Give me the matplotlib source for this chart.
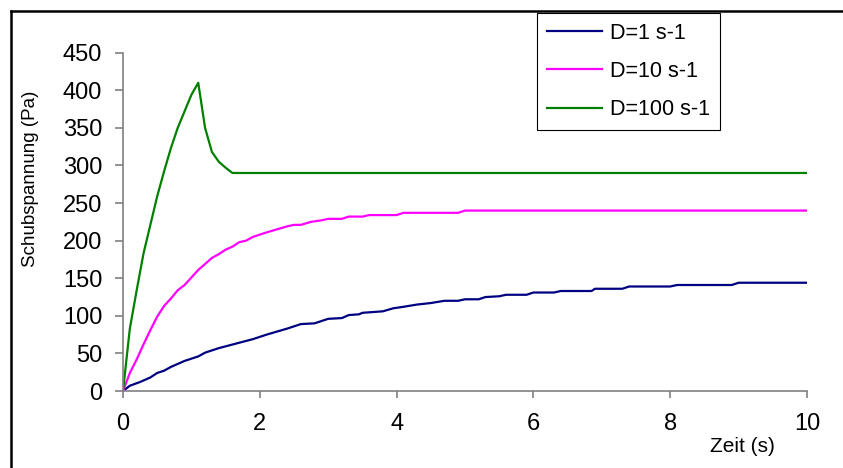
import matplotlib
matplotlib.use("Agg")
import matplotlib.pyplot as plt
from matplotlib.lines import Line2D

plt.rcParams['font.family'] = ['Liberation Sans', 'DejaVu Sans']

# --- data ---
t_d1 = [0, 0.1, 0.25, 0.4, 0.5, 0.6, 0.7, 0.9, 1.1, 1.2, 1.4, 1.65, 1.9, 2.1, 2.4,
        2.6, 2.8, 3.0, 3.2, 3.3, 3.45, 3.5, 3.8, 3.95, 4.1, 4.3, 4.5, 4.7, 4.9, 5.0,
        5.2, 5.3, 5.5, 5.6, 5.9, 6.0, 6.3, 6.4, 6.85, 6.9, 7.3, 7.4, 8.0, 8.1, 8.9,
        9.0, 10]
v_d1 = [0, 7, 12, 18, 24, 27, 32, 40, 46, 51, 57, 63, 69, 75, 83,
        89, 90, 96, 97, 101, 102, 104, 106, 110, 112, 115, 117, 120, 120, 122,
        122, 125, 126, 128, 128, 131, 131, 133, 133, 136, 136, 139, 139, 141, 141,
        144, 144]

t_d10 = [0, 0.1, 0.2, 0.3, 0.4, 0.5, 0.6, 0.7, 0.8, 0.9, 1.0, 1.1, 1.2, 1.3, 1.4,
         1.5, 1.6, 1.7, 1.8, 1.9, 2.0, 2.1, 2.25, 2.4, 2.5, 2.6, 2.75, 2.9, 3.0,
         3.2, 3.3, 3.5, 3.6, 4.0, 4.1, 4.9, 5.0, 10]
v_d10 = [0, 24, 42, 62, 81, 99, 113, 123, 134, 141, 151, 161, 169, 177, 182,
         188, 192, 198, 200, 205, 208, 211, 215, 219, 221, 221, 225, 227, 229,
         229, 232, 232, 234, 234, 237, 237, 240, 240]

t_d100 = [0, 0.1, 0.2, 0.3, 0.4, 0.5, 0.6, 0.7, 0.8, 0.9, 1.0, 1.1, 1.2, 1.3, 1.4,
          1.5, 1.6, 10]
v_d100 = [0, 83, 134, 183, 221, 259, 292, 323, 350, 372, 394, 410, 350, 318, 305,
          297, 290, 290]

labels = ["D=1 s-1", "D=10 s-1", "D=100 s-1"]
colors = ["#000080", "#FF00FF", "#008000"]

x_ticks = [0, 2, 4, 6, 8, 10]
y_ticks = [0, 50, 100, 150, 200, 250, 300, 350, 400, 450]

W, H = 843, 468
fig = plt.figure(figsize=(W / 100, H / 100), dpi=100)
ax = fig.add_axes([123 / W, 1 - 391 / H, (807 - 123) / W, (391 - 52.7) / H])

for t, v, lab, c in zip([t_d1, t_d10, t_d100], [v_d1, v_d10, v_d100], labels, colors):
    ax.plot(t, v, color=c, lw=1.6, label=lab, solid_joinstyle='round')

ax.set_xlim(0, 10)
ax.set_ylim(0, 450)
ax.set_xticks(x_ticks)
ax.set_yticks(y_ticks)
for s in ['top', 'right']:
    ax.spines[s].set_visible(False)
for s in ['left', 'bottom']:
    ax.spines[s].set_color('#808080')
    ax.spines[s].set_linewidth(1.2)
ax.tick_params(axis='both', direction='out', color='#808080', width=1.2,
               labelsize=17, labelcolor='black')
ax.tick_params(axis='y', length=6, pad=9)
ax.tick_params(axis='x', length=5, pad=11)

ax.set_ylabel("Schubspannung (Pa)", fontsize=13.5)
ax.yaxis.set_label_coords(-0.123, 0.627)
ax.set_xlabel("Zeit (s)", fontsize=15)
ax.xaxis.set_label_coords(0.905, -0.135)

leg = ax.legend(loc='upper left', bbox_to_anchor=(537 / W, 1 - 13 / H),
                bbox_transform=fig.transFigure, borderaxespad=0, fancybox=False,
                framealpha=1, edgecolor='black', fontsize=15.5, handlelength=2.55,
                handletextpad=0.4, labelspacing=0.8, borderpad=0.45)
leg.get_frame().set_linewidth(0.8)

# outer chart frame (left and top edges visible)
fig.add_artist(Line2D([11 / W, 11 / W], [0, 1 - 11 / H], transform=fig.transFigure,
                      color='black', lw=1.8))
fig.add_artist(Line2D([11 / W, 1], [1 - 11 / H, 1 - 11 / H], transform=fig.transFigure,
                      color='black', lw=1.8))

fig.savefig("out.png", dpi=100)
